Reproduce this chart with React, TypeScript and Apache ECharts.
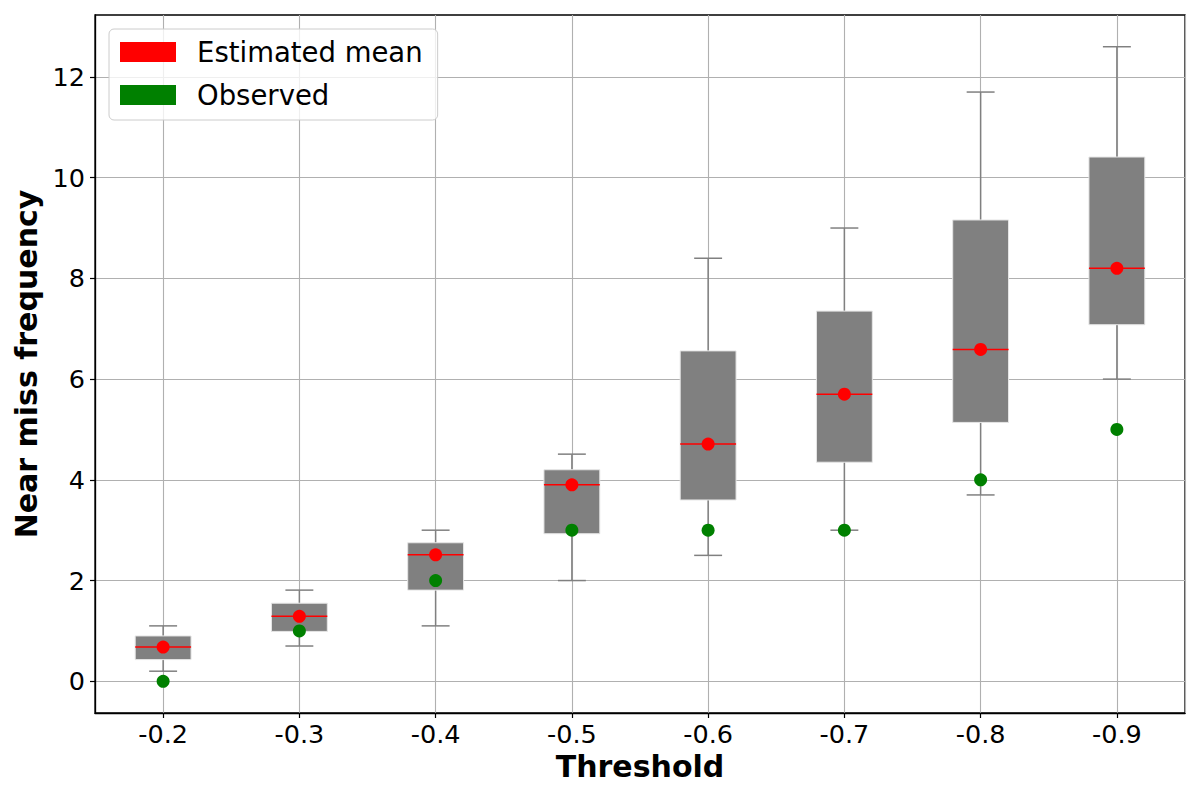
import React, { useEffect, useRef } from "react";
import * as echarts from "echarts";

const categories = ["-0.2", "-0.3", "-0.4", "-0.5", "-0.6", "-0.7", "-0.8", "-0.9"];
const whiskerLow = [0.2, 0.7, 1.1, 2.0, 2.5, 3.0, 3.7, 6.0];
const q1 = [0.43, 0.99, 1.81, 2.93, 3.6, 4.35, 5.14, 7.08];
const median = [0.68, 1.29, 2.51, 3.9, 4.71, 5.7, 6.59, 8.2];
const q3 = [0.9, 1.55, 2.75, 4.2, 6.56, 7.35, 9.16, 10.41];
const whiskerHigh = [1.1, 1.81, 3.0, 4.51, 8.4, 9.0, 11.7, 12.6];
const estimatedMean = [0.68, 1.29, 2.51, 3.9, 4.71, 5.7, 6.59, 8.2];
const observed = [0, 1, 2, 3, 3, 3, 4, 5];
const yTicks = [0, 2, 4, 6, 8, 10, 12];

const FONT = "DejaVu Sans";

export default function App() {
  const ref = useRef<HTMLDivElement>(null);
  useEffect(() => {
    if (!ref.current) return;
    const chart = echarts.init(ref.current, null, { renderer: "svg" });
    const boxData = categories.map((_, i) => [i, whiskerLow[i], q1[i], median[i], q3[i], whiskerHigh[i]]);
    const gray = "#808080";
    const option: any = {
      animation: false,
      backgroundColor: "#ffffff",
      textStyle: { fontFamily: FONT },
      grid: {
        left: 95,
        right: 15,
        top: 15,
        bottom: 87,
        show: true,
        borderColor: "#000000",
        borderWidth: 1.3,
        backgroundColor: "transparent",
        containLabel: false,
      },
      legend: {
        orient: "vertical",
        left: 109,
        top: 29,
        padding: [9, 15, 11, 11],
        itemWidth: 56,
        itemHeight: 20,
        itemGap: 15,
        icon: "rect",
        backgroundColor: "rgba(255,255,255,0.8)",
        borderColor: "#cccccc",
        borderWidth: 1,
        borderRadius: 5,
        textStyle: { fontFamily: FONT, fontSize: 27.5, color: "#000", padding: [0, 0, 0, 16] },
        data: ["Estimated mean", "Observed"],
      },
      xAxis: [
        {
          type: "category",
          data: categories,
          boundaryGap: true,
          axisLine: { show: true, onZero: false, lineStyle: { color: "#000", width: 1.3 } },
          axisTick: { show: true, alignWithLabel: true, length: 5, lineStyle: { color: "#000", width: 1.2 } },
          axisLabel: { fontFamily: FONT, fontSize: 25.5, color: "#000", margin: 8 },
          splitLine: { show: false },
          name: "Threshold",
          nameLocation: "middle",
          nameGap: 38,
          nameTextStyle: { fontFamily: FONT, fontSize: 30, fontWeight: "bold", color: "#000" },
        },
        {
          type: "value",
          min: -0.5,
          max: 7.5,
          splitNumber: 8,
          position: "bottom",
          show: true,
          axisLine: { show: false, onZero: false },
          axisTick: { show: false },
          axisLabel: { show: false },
          splitLine: { show: true, lineStyle: { color: "#b0b0b0", width: 1.1 } },
        },
      ],
      yAxis: {
        type: "value",
        min: -0.63,
        max: 13.23,
        splitNumber: 7,
        axisLine: { show: true, onZero: false, lineStyle: { color: "#000", width: 1.3 } },
        axisTick: { show: true, length: 5, customValues: yTicks, lineStyle: { color: "#000", width: 1.2 } },
        axisLabel: {
          fontFamily: FONT,
          fontSize: 25.5,
          color: "#000",
          margin: 10,
          customValues: yTicks,
          formatter: (v: number) => (yTicks.indexOf(Math.round(v * 100) / 100) >= 0 ? String(v) : ""),
        },
        splitLine: { show: true, lineStyle: { color: "#b0b0b0", width: 1.1 } },
        name: "Near miss frequency",
        nameLocation: "middle",
        nameGap: 52,
        nameTextStyle: { fontFamily: FONT, fontSize: 30, fontWeight: "bold", color: "#000" },
      },
      series: [
        {
          type: "custom",
          name: "box",
          xAxisIndex: 0,
          yAxisIndex: 0,
          z: 2,
          encode: { x: 0, y: [1, 2, 3, 4, 5] },
          data: boxData,
          renderItem: (params: any, api: any) => {
            const x = api.value(0);
            const pLow = api.coord([x, api.value(1)]);
            const pQ1 = api.coord([x, api.value(2)]);
            const pMed = api.coord([x, api.value(3)]);
            const pQ3 = api.coord([x, api.value(4)]);
            const pHigh = api.coord([x, api.value(5)]);
            const band = api.size([1, 0])[0];
            const boxW = band * 0.41;
            const capW = boxW / 2;
            const cx = pMed[0];
            const lineStyle = { stroke: gray, lineWidth: 1.5 };
            return {
              type: "group",
              children: [
                { type: "line", shape: { x1: cx, y1: pLow[1], x2: cx, y2: pQ1[1] }, style: lineStyle },
                { type: "line", shape: { x1: cx, y1: pQ3[1], x2: cx, y2: pHigh[1] }, style: lineStyle },
                { type: "line", shape: { x1: cx - capW / 2, y1: pLow[1], x2: cx + capW / 2, y2: pLow[1] }, style: lineStyle },
                { type: "line", shape: { x1: cx - capW / 2, y1: pHigh[1], x2: cx + capW / 2, y2: pHigh[1] }, style: lineStyle },
                {
                  type: "rect",
                  shape: { x: cx - boxW / 2, y: pQ3[1], width: boxW, height: pQ1[1] - pQ3[1] },
                  style: { fill: gray, stroke: "#e6e6e6", lineWidth: 1 },
                },
                {
                  type: "line",
                  shape: { x1: cx - boxW / 2, y1: pMed[1], x2: cx + boxW / 2, y2: pMed[1] },
                  style: { stroke: "#ff0000", lineWidth: 1.5 },
                },
              ],
            };
          },
        },
        {
          type: "scatter",
          name: "Estimated mean",
          xAxisIndex: 0,
          yAxisIndex: 0,
          z: 4,
          symbol: "circle",
          symbolSize: 13,
          itemStyle: { color: "#ff0000", opacity: 1 },
          data: estimatedMean.map((v, i) => [i, v]),
        },
        {
          type: "scatter",
          name: "Observed",
          xAxisIndex: 0,
          yAxisIndex: 0,
          z: 3,
          symbol: "circle",
          symbolSize: 13,
          itemStyle: { color: "#008000", opacity: 1 },
          data: observed.map((v, i) => [i, v]),
        },
      ],
    };
    chart.setOption(option);
    return () => chart.dispose();
  }, []);
  return (
    <div
      ref={ref}
      style={{ position: "absolute", left: 0, top: 0, width: 1200, height: 800, background: "#fff" }}
    />
  );
}
